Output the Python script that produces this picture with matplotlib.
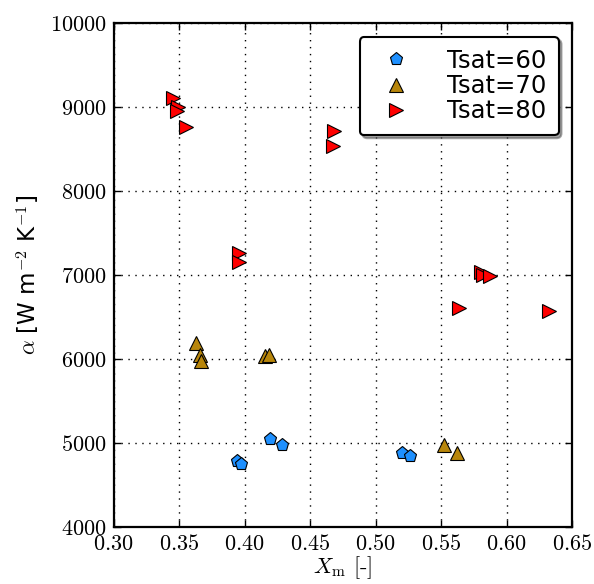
import matplotlib
matplotlib.use("Agg")
import matplotlib.pyplot as plt
from matplotlib.ticker import FormatStrFormatter, MultipleLocator

plt.rcParams["font.family"] = ["DejaVu Sans"]
plt.rcParams["mathtext.fontset"] = "cm"
plt.rcParams["xtick.direction"] = "in"
plt.rcParams["ytick.direction"] = "in"
plt.rcParams["xtick.top"] = True
plt.rcParams["ytick.right"] = True

# Tsat = 60
x60 = [0.3946, 0.3976, 0.4192, 0.4289, 0.5203, 0.5264]
y60 = [4789, 4753, 5048, 4983, 4888, 4849]
# Tsat = 70
x70 = [0.3633, 0.3659, 0.3671, 0.4154, 0.4187, 0.5520, 0.5620]
y70 = [6190, 6051, 5980, 6039, 6051, 4980, 4888]
# Tsat = 80
x80 = [0.3450, 0.3493, 0.3481, 0.3552, 0.3957, 0.3957, 0.4682, 0.4677,
       0.5805, 0.5818, 0.5877, 0.5635, 0.6326]
y80 = [9107, 9000, 8956, 8762, 7262, 7162, 8721, 8539,
       7043, 7004, 6995, 6607, 6575]

series = [
    ("Tsat=60", x60, y60, "p", "#1E90FF"),
    ("Tsat=70", x70, y70, "^", "#B8860B"),
    ("Tsat=80", x80, y80, ">", "#FF0000"),
]

fig = plt.figure(figsize=(5.94, 5.84), dpi=100)
ax = fig.add_axes([0.1912, 0.0971, 0.7718, 0.8630])

for label, xs, ys, mk, col in series:
    ax.plot(xs, ys, linestyle="none", marker=mk, markersize=9.5,
            markerfacecolor=col, markeredgecolor="k", markeredgewidth=0.8,
            label=label)

ax.set_xlim(0.30, 0.65)
ax.set_ylim(4000, 10000)
ax.xaxis.set_major_locator(MultipleLocator(0.05))
ax.yaxis.set_major_locator(MultipleLocator(1000))
ax.xaxis.set_major_formatter(FormatStrFormatter(r"$%.2f$"))
ax.yaxis.set_major_formatter(FormatStrFormatter(r"$%d$"))
ax.tick_params(labelsize=16, length=5, width=1, pad=5)
ax.grid(True, color="k", linestyle=(0, (1, 4)), linewidth=1)
for s in ax.spines.values():
    s.set_linewidth(1.6)

ax.set_xlabel(r"$X_\mathrm{m}$ [-]", fontsize=16, labelpad=0,
              family=["cmr10", "DejaVu Serif"])
ax.set_ylabel(r"$\alpha$ [W m$^{\mathsf{-2}}$ K$^{\mathsf{-1}}$]", fontsize=16.5, labelpad=6)

leg = ax.legend(loc="upper right", numpoints=1, fontsize=17.5, fancybox=True,
                shadow=True, borderaxespad=0.55, handletextpad=1.1,
                labelspacing=0.05, borderpad=0.5, framealpha=1)
leg.get_frame().set_edgecolor("k")
leg.get_frame().set_linewidth(1.5)

fig.savefig("out.png", dpi=100)
